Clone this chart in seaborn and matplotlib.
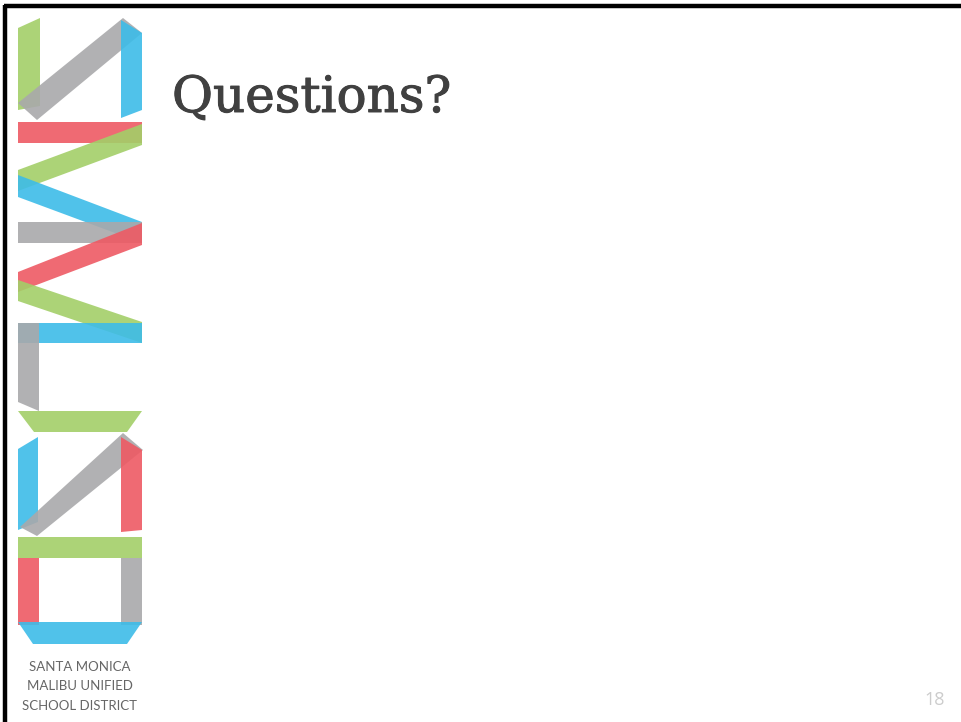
import matplotlib
matplotlib.use("Agg")
import matplotlib.pyplot as plt
import matplotlib.patheffects as pe
import seaborn as sns

sns.set_theme(style="white")

# slide content
TITLE = "Questions?"
SLIDE_NUMBER = "18"
DISTRICT_LINES = ["SANTA MONICA", "MALIBU UNIFIED", "SCHOOL DISTRICT"]

PALETTE = {
    "green": "#a3cf68",
    "gray": "#a9a9ab",
    "blue": "#3dbce8",
    "red": "#ee5a64",
}

# logo ribbons, top to bottom, in slide pixels (x, y)
RIBBON_COLORS = [
    "green", "gray", "blue", "red",
    "green", "blue", "gray", "red", "green", "blue",
    "gray", "green",
    "blue", "gray", "red", "green",
    "red", "gray", "blue",
]
RIBBON_SHAPES = [
    [(18, 28), (40, 18), (40, 106), (18, 110)],
    [(18, 103), (123, 18), (142, 33), (37, 120)],
    [(121, 20), (142, 33), (142, 110), (121, 118)],
    [(18, 122), (142, 122), (142, 143), (18, 143)],
    [(142, 124), (142, 145), (18, 191), (18, 170)],
    [(18, 175), (18, 197), (142, 243), (142, 222)],
    [(18, 222), (142, 222), (142, 243), (18, 243)],
    [(142, 223), (142, 245), (18, 292), (18, 272)],
    [(18, 280), (18, 301), (142, 343), (142, 322)],
    [(18, 323), (142, 323), (142, 343), (18, 343)],
    [(18, 323), (39, 323), (39, 411), (18, 402)],
    [(18, 411), (142, 411), (127, 432), (34, 432)],
    [(18, 449), (38, 437), (38, 522), (18, 530)],
    [(20, 527), (123, 433), (143, 450), (37, 536)],
    [(121, 437), (142, 450), (142, 530), (121, 532)],
    [(18, 537), (142, 537), (142, 558), (18, 558)],
    [(18, 558), (39, 558), (39, 625), (18, 625)],
    [(121, 558), (142, 558), (142, 625), (121, 625)],
    [(18, 622), (142, 622), (127, 644), (33, 644)],
]

W, H = 961, 722
fig = plt.figure(figsize=(W / 100, H / 100), dpi=100)
ax = fig.add_axes([0, 0, 1, 1])
ax.set_xlim(0, W)
ax.set_ylim(H, 0)
ax.axis("off")

# slide frame: thick black line along top and left edges
ax.plot([4, W], [6, 6], color="black", linewidth=3.2, solid_capstyle="butt")
ax.plot([5, 5], [4.5, H], color="black", linewidth=3.2, solid_capstyle="butt")

for name, shape in zip(RIBBON_COLORS, RIBBON_SHAPES):
    xs = [p[0] for p in shape]
    ys = [p[1] for p in shape]
    ax.fill(xs, ys, color=PALETTE[name], alpha=0.9, linewidth=0)

for i, line in enumerate(DISTRICT_LINES):
    ax.text(80, 667 + i * 19.5, line, ha="center", va="center",
            fontsize=9.5, color="#666666", family=["Lato", "DejaVu Sans"])

title = ax.text(172, 112, TITLE, ha="left", va="baseline", fontsize=36,
                color="#404040", family=["DejaVu Serif"])
title.set_path_effects([pe.withStroke(linewidth=0.7, foreground="#404040")])

ax.text(945, 700, SLIDE_NUMBER, ha="right", va="center", fontsize=13,
        color="#cccccc", family=["Open Sans", "DejaVu Sans"])

fig.savefig("out.png", dpi=100, facecolor="white")
plt.close(fig)
